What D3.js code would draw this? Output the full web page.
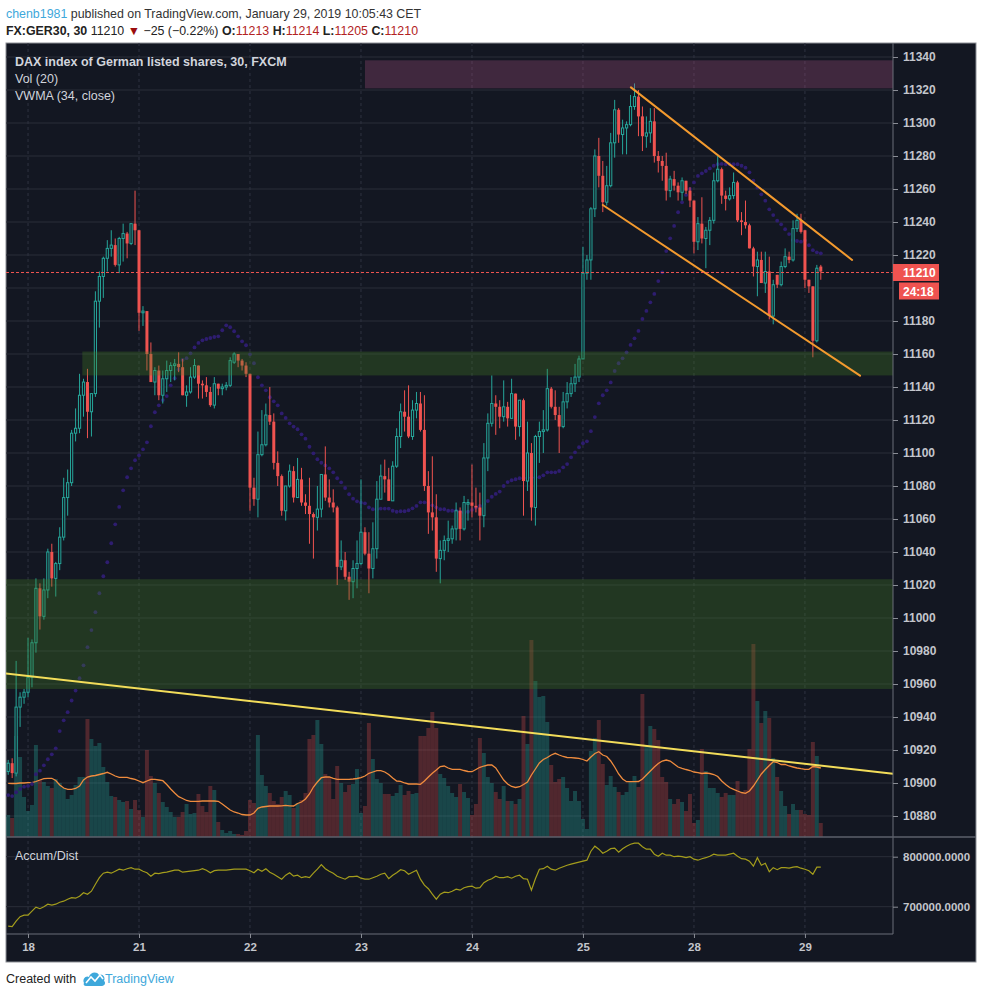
<!DOCTYPE html>
<html>
<head>
<meta charset="utf-8">
<script src="https://cdn.jsdelivr.net/npm/d3@7"></script>
<style>
  body { margin: 0; background: #fff; }
  svg text { font-family: "Liberation Sans", Arial, sans-serif; }
</style>
</head>
<body>
<svg id="chart" width="982" height="996"></svg>
<script>
// 30 minute bars, FX:GER30, Jan 17 (last bars) to Jan 29 2019
const opens = [
  10907,10912,10906,10946,10952,10955,10964,10985,11018,11001,
  11017,11040,11024,11033,11049,11073,11082,11112,11115,11135,
  11143,11125,11136,11192,11207,11218,11224,11226,11214,11230,
  11233,11227,11239,11235,11185,11186,11160,11143,11150,11135,
  11145,11150,11153,11154,11152,11135,11137,11146,11153,11142,
  11141,11137,11129,11142,11139,11140,11141,11155,11160,11156,
  11153,11148,11079,11072,11099,11105,11123,11119,11094,11086,
  11065,11080,11089,11073,11084,11070,11068,11063,11061,11066,
  11087,11073,11070,11067,11031,11035,11025,11022,11030,11033,
  11052,11039,11030,11042,11072,11086,11084,11071,11092,11110,
  11125,11122,11110,11126,11130,11114,11080,11064,11061,11036,
  11041,11047,11048,11054,11065,11054,11069,11070,11068,11067,
  11062,11097,11118,11130,11128,11122,11128,11121,11136,11116,
  11132,11083,11100,11067,11110,11113,11114,11139,11128,11123,
  11116,11131,11136,11142,11146,11157,11209,11217,11248,11280,
  11268,11252,11262,11288,11308,11293,11297,11299,11310,11316,
  11304,11292,11294,11301,11280,11277,11274,11259,11266,11262,
  11258,11265,11259,11253,11228,11239,11230,11235,11241,11265,
  11272,11256,11254,11256,11264,11241,11240,11238,11224,11213,
  11217,11203,11210,11183,11208,11202,11213,11219,11217,11236,
  11241,11235,11205,11201,11168,11213
];
const highs = [
  10914,10915,10974,10955,10957,10988,10987,11024,11021,11024,
  11042,11045,11034,11055,11085,11090,11114,11127,11148,11145,
  11151,11136,11198,11210,11219,11229,11235,11230,11231,11239,
  11234,11239,11259,11235,11189,11186,11167,11152,11153,11150,
  11156,11155,11157,11161,11157,11141,11152,11157,11153,11144,
  11146,11140,11146,11142,11142,11143,11158,11161,11160,11157,
  11155,11148,11085,11113,11126,11130,11140,11124,11101,11087,
  11080,11093,11092,11097,11091,11075,11085,11064,11080,11087,
  11104,11084,11078,11068,11047,11040,11028,11035,11047,11084,
  11055,11052,11058,11083,11093,11096,11091,11095,11115,11130,
  11138,11141,11132,11137,11137,11135,11089,11098,11075,11047,
  11050,11059,11056,11070,11067,11074,11072,11093,11079,11076,
  11106,11124,11147,11135,11132,11144,11131,11145,11136,11132,
  11133,11119,11106,11111,11119,11126,11151,11140,11138,11128,
  11137,11143,11146,11154,11159,11225,11220,11249,11284,11291,
  11277,11274,11294,11314,11309,11302,11301,11317,11324,11320,
  11310,11304,11309,11309,11283,11280,11282,11268,11271,11264,
  11267,11265,11261,11253,11243,11255,11237,11243,11270,11280,
  11273,11259,11261,11270,11265,11246,11253,11239,11225,11222,
  11222,11222,11219,11205,11208,11216,11224,11222,11241,11245,
  11245,11235,11205,11201,11214,11214
];
const lows = [
  10905,10903,10904,10934,10948,10952,10958,10979,10993,10999,
  11012,11019,11013,11029,11047,11062,11080,11107,11112,11122,
  11109,11110,11134,11176,11194,11210,11219,11213,11209,11216,
  11218,11226,11226,11174,11177,11150,11143,11135,11132,11130,
  11137,11143,11144,11149,11135,11128,11136,11145,11133,11133,
  11134,11128,11127,11135,11135,11138,11140,11154,11152,11150,
  11146,11065,11068,11061,11098,11104,11117,11090,11080,11062,
  11059,11079,11070,11073,11068,11063,11045,11036,11053,11061,
  11071,11067,11064,11020,11029,11023,11011,11012,11018,11032,
  11038,11015,11024,11036,11072,11076,11071,11071,11091,11103,
  11113,11109,11108,11121,11113,11077,11051,11053,11028,11021,
  11035,11040,11045,11047,11047,11053,11059,11061,11064,11047,
  11055,11089,11116,11111,11115,11119,11116,11121,11108,11110,
  11062,11077,11059,11056,11094,11100,11113,11127,11120,11100,
  11115,11127,11134,11137,11143,11157,11205,11205,11243,11261,
  11246,11250,11261,11279,11288,11281,11281,11298,11308,11292,
  11283,11285,11288,11276,11270,11265,11253,11255,11259,11253,
  11253,11257,11249,11221,11223,11227,11212,11226,11239,11264,
  11251,11247,11253,11254,11240,11232,11236,11224,11207,11195,
  11203,11197,11181,11178,11200,11201,11212,11215,11216,11234,
  11233,11200,11197,11158,11167,11205
];
const closes = [
  10912,10906,10946,10952,10955,10964,10985,11018,11001,11017,
  11040,11024,11033,11049,11073,11082,11112,11115,11135,11143,
  11125,11136,11192,11207,11218,11224,11226,11214,11230,11233,
  11227,11239,11235,11185,11186,11160,11143,11150,11135,11145,
  11150,11153,11154,11152,11135,11137,11146,11153,11142,11141,
  11137,11129,11142,11139,11140,11141,11156,11160,11156,11153,
  11148,11079,11072,11099,11105,11123,11119,11094,11086,11065,
  11080,11089,11073,11084,11070,11068,11063,11061,11066,11087,
  11073,11070,11067,11031,11035,11025,11022,11030,11033,11052,
  11039,11030,11042,11072,11086,11084,11071,11092,11110,11125,
  11122,11110,11126,11130,11114,11080,11064,11061,11036,11041,
  11047,11048,11054,11065,11054,11070,11070,11068,11067,11062,
  11097,11118,11130,11128,11122,11128,11121,11136,11116,11132,
  11083,11100,11067,11110,11113,11114,11139,11128,11123,11116,
  11131,11136,11142,11146,11157,11209,11217,11248,11280,11268,
  11252,11262,11288,11308,11293,11297,11299,11310,11316,11304,
  11292,11294,11301,11280,11277,11274,11259,11266,11262,11258,
  11265,11259,11253,11228,11239,11230,11235,11241,11265,11272,
  11256,11254,11256,11264,11241,11240,11238,11224,11213,11217,
  11203,11210,11183,11202,11202,11213,11219,11217,11236,11241,
  11234,11205,11201,11168,11212,11210
];
// volume (relative units)
const volumes = [
  22,19,101,80,40,26,32,92,57,55,51,49,58,54,49,38,42,52,60,60,
  118,98,91,94,70,55,41,40,37,35,36,28,37,27,20,87,61,54,44,35,
  30,25,20,20,25,33,23,24,43,31,25,51,47,15,7,4,6,3,3,2,
  6,37,34,102,62,51,44,36,33,40,46,42,29,34,37,44,98,102,117,93,
  63,60,38,71,54,45,52,53,68,24,31,114,78,58,54,43,43,41,44,52,
  42,46,43,44,101,101,109,125,109,63,59,51,44,40,53,45,39,22,33,99,
  84,60,54,45,38,51,36,36,33,38,121,93,197,156,140,141,115,72,55,58,
  60,49,36,46,36,18,8,86,99,117,73,52,61,50,45,42,45,55,61,50,
  143,91,111,108,97,60,55,38,33,38,35,26,43,14,17,88,66,49,49,44,
  40,44,42,42,56,44,47,88,193,136,114,126,119,79,60,46,31,23,33,27,
  27,23,22,95,81,14
];
// Vol (20) moving average line
const volMA = [
  53.7,53.5,53.5,54,54,54.3,54.3,55.5,57,58.3,58.7,
  58.7,56.5,52,49,47.7,47.7,48.5,51,57,60,
  61,61.5,62.5,63.5,64.7,63,61,59.7,59.7,59.7,
  58.5,57.7,56,54.3,56,57.7,57.7,57,56.3,52.5,
  48,44,40.3,38.5,36.5,35.7,35.7,35.7,36,36,
  36,36,35.7,33,30,27,25,24,22.5,22,
  22,24,28.7,30,30.5,31,31,31,31.2,31.7,
  31.2,31,33.5,35,38,43,50,55,59.3,60,
  60,58.7,57.7,57.7,57.7,57.7,58,58.5,59.3,61,
  63.7,65,66.3,66.3,65,62.5,59,56,55.7,54,
  53,53,53,52.7,56,60,63.7,67,70.5,71,
  69,67.7,67.7,67.7,66.5,65.5,65.3,67.5,69.7,71,
  72,72,69,63,57,53,50.5,49.5,50.3,52.5,
  55,62,68,74,77.5,79.5,82,83.7,82,80.5,
  79.5,79.3,79,78.7,77.5,76,80,83.5,85.3,82,
  80.5,76,70,63,58,55.3,55.3,55.3,55.5,58,
  62,66,70,73.5,76,77,76,73,70,68.7,
  67.5,66.5,65,64.3,63.5,64,63.5,62.5,60.5,56,
  52.5,49.5,47.7,46,44.5,43.7,46,51,57,63,
  67.5,71.5,75.3,74.5,72.5,72.5,71,70,69,68.3,
  67.7,67.7,70.5,70,69
];
// VWMA (34, close)
const vwma = [
  10892.7,10892.1,10894.4,10896.4,10897.8,10898.2,10899.4,10905.3,10907.5,10910.7,
  10914.4,10917.4,10921,10931.5,10938,10942.9,
  10950,10956,10963.5,10971.3,10982.3,10992.7,11003.5,11015,11025.3,11033.8,
  11045.3,11056.8,11067.3,11077.4,11085.3,11090.7,11095.6,11098.6,11102.2,11106.5,
  11116.2,11124.7,11128.9,11132.1,11134.5,11141,
  11145.3,11150.7,11156.4,11157.5,11160.4,11164,11166.7,11168.3,11169.1,11169.7,
  11170.3,11170.7,11174.4,11177.4,11176.2,11173.8,11170.7,11167.7,11165.3,11159.8,
  11154.4,11145.9,11141,11138,11133.8,11131.3,11128.9,11124,11121.2,
  11118,11116,11114.4,11111.3,11108.7,11103.8,11099.8,11096.2,11094.1,11092.5,
  11090.7,11088.3,11084.7,11082.2,11078.8,11075,11072.3,11070.7,11069.9,11069.5,
  11067.1,11065.9,11065.9,11066.3,11066.3,11066.3,11065,11064.4,11064.7,11064.7,
  11065.3,11066.5,11067.9,11070.1,11070.1,11069.9,11068.3,11067.1,11065.9,11065.9,11065,
  11065,11065,11064.4,11063.8,11064.4,11065.5,11066.9,11067.9,11069.1,11070.9,
  11073.5,11075.2,11076.6,11080,11082.4,11083.5,11084.1,11084.7,11084.9,11084.9,
  11085.1,11085.1,11085.3,11086.5,11088.3,11088.3,11088.3,11089.1,11091.3,11093.3,
  11097.4,11100.4,11103.5,11105.9,11107.1,11113.2,11121.8,11130.1,11135,11138,
  11142.8,11149.7,11154.4,
  11157.4,11161,11165.5,11169.5,11174,11181.2,11186.1,11191.3,11196.4,11204.2,
  11209.5,11222.4,11230.1,11237.6,11245.9,11251.9,11256.4,11260,11264,11267.9,
  11269.5,11270.9,11272.5,11274.1,11275,11275.2,11275,11275,11275,11275,
  11274.1,11272.9,11270.1,11265,11260.8,11256.8,11252.9,11247.7,11244.2,11240.8,
  11238.6,11235.6,11232.7,11229.1,11228.5,11228.1,11228.9,11225.9,11222.9,11221.6,11221
];
// Accum/Dist, thousands
const accDist = [
  661,660,671,680,683,683,691,699,696,700,705,703,705,709,711,715,718,717,721,728,
  725,731,745,758,767,769,767,771,775,773,776,778,775,775,771,768,761,767,766,768,
  769,771,773,773,769,770,771,772,773,776,773,768,772,773,773,773,774,775,775,775,
  775,772,768,775,771,776,769,765,760,755,763,768,761,763,758,760,758,767,775,784,
  776,771,767,761,758,755,760,760,761,757,755,755,758,761,765,767,756,763,768,774,
  772,765,769,773,755,743,736,725,715,725,729,728,731,735,733,738,740,741,737,738,
  748,753,756,761,758,758,760,757,761,763,756,755,733,756,775,776,781,775,773,777,
  780,783,785,787,789,791,793,811,821,815,807,811,816,817,809,816,821,825,827,827,
  820,815,815,805,801,807,803,803,800,801,800,798,800,795,793,796,798,801,805,803,
  803,803,805,807,801,796,795,791,781,798,783,787,770,778,774,778,778,777,779,780,
  777,775,772,765,779,779
];

const dayBars = [5, 33, 61, 89, 117, 145, 173, 201];
const dayLabels = ["18", "21", "22", "23", "24", "25", "28", "29"];
const priceTicks = d3.range(10880, 11341, 20);
const adTicks = [700, 800];

// drawn objects: zones and trend lines (bar index, price)
const zones = [
  { from: 90, to: 240, top: 11338, bottom: 11321, fill: "rgba(170,80,130,0.3)" },
  { from: 18.7, to: 240, top: 11161.5, bottom: 11147, fill: "rgba(70,130,36,0.3)" },
  { from: -5, to: 240, top: 11023.5, bottom: 10957, fill: "rgba(70,130,36,0.3)" }
];
const trendLines = [
  { a: [157.1, 11321.6], b: [212.9, 11217], color: "#f39a2e" },
  { a: [150, 11250.3], b: [214.9, 11146.9], color: "#f39a2e" },
  { a: [-1, 10966.5], b: [223.2, 10905.6], color: "#f3dd5a" }
];
const lastPrice = 11210;

const svg = d3.select("#chart");
const bg = "#131722", up = "#26a69a", down = "#ef5350",
    gridCol = "#2a2e39", textCol = "#c3c6cc";
const paneL = 6, paneR = 976, axisX = 893,
    mainTop = 43, mainBot = 837, adBot = 934, bottom = 962;

const x = d3.scaleLinear().domain([0, 205]).range([8.2, 820.8]);
const y = d3.scaleLinear().domain([10880, 11340]).range([816, 57]);
const yVol = d3.scaleLinear().domain([0, 200]).range([mainBot, mainBot - 200]);
const yAD = d3.scaleLinear().domain([700, 800]).range([906.7, 856.7]);

const bars = opens.map((o, i) => ({ i, o, h: highs[i], l: lows[i], c: closes[i], v: volumes[i] }));

// header
const head = svg.append("text").attr("x", 6).attr("y", 18).attr("font-size", 12.4).attr("fill", "#333");
head.append("tspan").attr("fill", "#3ea8db").text("chenb1981");
head.append("tspan").text(" published on TradingView.com, January 29, 2019 10:05:43 CET");
const line2 = svg.append("text").attr("x", 6).attr("y", 35).attr("font-size", 12.4).attr("fill", "#222");
line2.append("tspan").attr("font-weight", "bold").text("FX:GER30, 30 ");
line2.append("tspan").text(" 11210 ");
line2.append("tspan").attr("fill", "#9b0d0d").text("▼");
line2.append("tspan").text(" −25 (−0.22%) ");
[["O:", "11213"], ["H:", "11214"], ["L:", "11205"], ["C:", "11210"]].forEach(([k, v]) => {
  line2.append("tspan").attr("font-weight", "bold").text(k);
  line2.append("tspan").attr("fill", "#b22222").text(v + " ");
});

// panel
svg.append("rect").attr("x", paneL).attr("y", mainTop).attr("width", paneR - paneL)
  .attr("height", bottom - mainTop).attr("fill", bg).attr("stroke", "#8d9096").attr("stroke-width", 1);

const defs = svg.append("defs");
defs.append("clipPath").attr("id", "clipMain").append("rect")
  .attr("x", paneL).attr("y", mainTop).attr("width", axisX - paneL).attr("height", mainBot - mainTop);
defs.append("clipPath").attr("id", "clipAD").append("rect")
  .attr("x", paneL).attr("y", mainBot).attr("width", axisX - paneL).attr("height", adBot - mainBot);

// grid
const grid = svg.append("g");
grid.selectAll(".hg").data(priceTicks).join("line")
  .attr("x1", paneL).attr("x2", axisX).attr("y1", d => y(d)).attr("y2", d => y(d))
  .attr("stroke", gridCol);
grid.selectAll(".ag").data(adTicks).join("line")
  .attr("x1", paneL).attr("x2", axisX).attr("y1", d => yAD(d)).attr("y2", d => yAD(d))
  .attr("stroke", gridCol);
grid.selectAll(".vg").data(dayBars).join("line")
  .attr("x1", d => x(d)).attr("x2", d => x(d)).attr("y1", mainTop).attr("y2", adBot)
  .attr("stroke", "#2f3340").attr("stroke-dasharray", "3,3");

const main = svg.append("g").attr("clip-path", "url(#clipMain)");

// volume
main.append("g").selectAll("rect").data(bars).join("rect")
  .attr("x", d => x(d.i) - 2).attr("width", 3.96)
  .attr("y", d => yVol(d.v)).attr("height", d => mainBot - yVol(d.v))
  .attr("fill", d => d.c >= d.o ? "rgba(38,166,154,0.33)" : "rgba(239,83,80,0.28)");

main.append("path").datum(volMA)
  .attr("d", d3.line().x((d, i) => x(i)).y(d => yVol(d)))
  .attr("fill", "none").attr("stroke", "#f08c3e").attr("stroke-width", 1.3);

// VWMA dots
main.append("g").selectAll("circle").data(vwma).join("circle")
  .attr("cx", (d, i) => x(i)).attr("cy", d => y(d)).attr("r", 1.9)
  .attr("fill", "#2e1d70");

// candles
const cg = main.append("g");
cg.selectAll("line").data(bars).join("line")
  .attr("x1", d => x(d.i)).attr("x2", d => x(d.i))
  .attr("y1", d => y(d.h)).attr("y2", d => y(d.l))
  .attr("stroke", d => d.c >= d.o ? up : down).attr("stroke-width", 1);
cg.selectAll("rect").data(bars).join("rect")
  .attr("x", d => x(d.i) - (d.c >= d.o ? 1.1 : 1.5))
  .attr("width", d => d.c >= d.o ? 2.2 : 3)
  .attr("y", d => y(Math.max(d.o, d.c)))
  .attr("height", d => Math.max(1, Math.abs(y(d.o) - y(d.c))))
  .attr("fill", d => d.c >= d.o ? bg : down)
  .attr("stroke", d => d.c >= d.o ? up : "none").attr("stroke-width", 1);

// zones
main.append("g").selectAll("rect").data(zones).join("rect")
  .attr("x", d => x(d.from)).attr("width", d => x(d.to) - x(d.from))
  .attr("y", d => y(d.top)).attr("height", d => y(d.bottom) - y(d.top))
  .attr("fill", d => d.fill);

// trend lines
main.append("g").selectAll("line").data(trendLines).join("line")
  .attr("x1", d => x(d.a[0])).attr("y1", d => y(d.a[1]))
  .attr("x2", d => x(d.b[0])).attr("y2", d => y(d.b[1]))
  .attr("stroke", d => d.color).attr("stroke-width", 2).attr("stroke-linecap", "round");

// last price line
const ly = Math.round(y(lastPrice)) + 0.5;
main.append("line").attr("x1", paneL).attr("x2", axisX)
  .attr("y1", ly).attr("y2", ly)
  .attr("stroke", down).attr("stroke-width", 1).attr("stroke-dasharray", "3,2");

// legend
const leg = svg.append("g").attr("font-size", 12.5).attr("fill", "#d1d4dc");
leg.append("text").attr("x", 15).attr("y", 66).attr("font-weight", "bold").text("DAX index of German listed shares, 30, FXCM");
leg.append("text").attr("x", 15).attr("y", 83).text("Vol (20)");
leg.append("text").attr("x", 15).attr("y", 100).text("VWMA (34, close)");

// accum/dist pane
svg.append("g").attr("clip-path", "url(#clipAD)").append("path").datum(accDist)
  .attr("d", d3.line().x((d, i) => x(i)).y(d => yAD(d)))
  .attr("fill", "none").attr("stroke", "#a49d1c").attr("stroke-width", 1.2);
svg.append("text").attr("x", 15).attr("y", 860).attr("font-size", 12.5)
  .attr("fill", "#d1d4dc").text("Accum/Dist");

// separators
svg.append("line").attr("x1", axisX).attr("x2", axisX).attr("y1", mainTop).attr("y2", adBot)
  .attr("stroke", "#6b6e78");
svg.append("line").attr("x1", paneL).attr("x2", paneR).attr("y1", mainBot).attr("y2", mainBot)
  .attr("stroke", "#5d606b").attr("stroke-width", 1.5);
svg.append("line").attr("x1", paneL).attr("x2", axisX).attr("y1", adBot).attr("y2", adBot)
  .attr("stroke", "#6b6e78");

// price axis (the 11200 label sits under the countdown tag)
const shownTicks = priceTicks.filter(d => Math.abs(y(d) - y(lastPrice)) > 22 || d === 11220);
const pAxis = svg.append("g").attr("transform", `translate(${axisX},0)`)
  .call(d3.axisRight(y).tickValues(shownTicks).tickSize(5).tickPadding(5).tickFormat(d3.format("d")));
pAxis.select(".domain").remove();
pAxis.selectAll("line").attr("stroke", "#8a8d96");
pAxis.selectAll("text").attr("fill", textCol).attr("font-size", 12).attr("font-weight", "bold")
  .attr("font-family", "Liberation Sans, Arial, sans-serif");

// accum/dist axis
const aAxis = svg.append("g").attr("transform", `translate(${axisX},0)`)
  .call(d3.axisRight(yAD).tickValues(adTicks).tickSize(5).tickPadding(5)
    .tickFormat(d => (d * 1000).toFixed(4)));
aAxis.select(".domain").remove();
aAxis.selectAll("line").attr("stroke", "#8a8d96");
aAxis.selectAll("text").attr("fill", textCol).attr("font-size", 11.5).attr("font-weight", "bold")
  .attr("font-family", "Liberation Sans, Arial, sans-serif");

// date axis
const dAxis = svg.append("g").attr("transform", `translate(0,${adBot})`)
  .call(d3.axisBottom(x).tickValues(dayBars).tickSize(4).tickPadding(5)
    .tickFormat((d, i) => dayLabels[i]));
dAxis.select(".domain").remove();
dAxis.selectAll("line").attr("stroke", "#8a8d96");
dAxis.selectAll("text").attr("fill", textCol).attr("font-size", 11.5).attr("font-weight", "bold")
  .attr("font-family", "Liberation Sans, Arial, sans-serif");

// last price tags
svg.append("rect").attr("x", axisX).attr("y", ly - 8.5).attr("width", 46).attr("height", 17).attr("fill", down);
svg.append("text").attr("x", axisX + 10).attr("y", ly + 4.5).attr("font-size", 12).attr("font-weight", "bold")
  .attr("fill", "#fff").text("11210");
svg.append("rect").attr("x", axisX + 6).attr("y", ly + 10).attr("width", 40).attr("height", 17).attr("fill", down);
svg.append("text").attr("x", axisX + 10).attr("y", ly + 23).attr("font-size", 12).attr("font-weight", "bold")
  .attr("fill", "#fff").text("24:18");

// footer
svg.append("text").attr("x", 6).attr("y", 983).attr("font-size", 12.5).attr("fill", "#222").text("Created with");
const logo = svg.append("g").attr("transform", "translate(83,971)");
logo.append("path").attr("d", "M1,12 C-1,8 3,4 6,6 C7,1 14,0 16,4 C19,2 23,6 21,10 C23,11 22,15 19,15 L3,15 C1,15 0,13 1,12 Z")
  .attr("fill", "#3ea8db");
logo.append("path").attr("d", "M3,12 L8,6 L12,10 L17,4 L20,8")
  .attr("fill", "none").attr("stroke", "#fff").attr("stroke-width", 1.6);
svg.append("text").attr("x", 105).attr("y", 983).attr("font-size", 12.5).attr("fill", "#3ea8db").text("TradingView");
</script>
</body>
</html>
